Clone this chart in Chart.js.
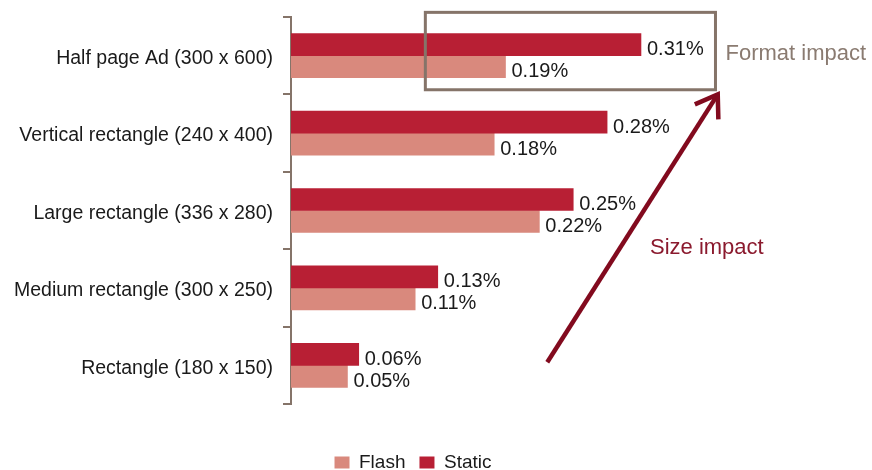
<!DOCTYPE html>
<html>
<head>
<meta charset="utf-8">
<title>Ad format impact</title>
<script src="https://cdn.jsdelivr.net/npm/chart.js@4/dist/chart.umd.min.js"></script>
<style>
  html, body { margin: 0; padding: 0; background: #fff; }
  #wrap { width: 872px; height: 470px; position: relative; }
</style>
</head>
<body>
<div id="wrap"><canvas id="formatChart"></canvas></div>
<script>
// Chart data
var categories = [
    'Half page Ad (300 x 600)',
    'Vertical rectangle (240 x 400)',
    'Large rectangle (336 x 280)',
    'Medium rectangle (300 x 250)',
    'Rectangle (180 x 150)'
];
var seriesNames = ['Static', 'Flash'];
var staticValues = [0.31, 0.28, 0.25, 0.13, 0.06];
var flashValues = [0.19, 0.18, 0.22, 0.11, 0.05];

var FONT = '"Liberation Sans", Arial, sans-serif';
var AXIS_COLOR = '#857469';

// Value labels at the end of each bar
var valueLabels = {
    id: 'valueLabels',
    afterDatasetsDraw: function(chart) {
        var ctx = chart.ctx;
        ctx.save();
        ctx.font = '20px ' + FONT;
        ctx.fillStyle = '#1a1a1a';
        ctx.textAlign = 'left';
        ctx.textBaseline = 'middle';
        chart.data.datasets.forEach(function(ds, i) {
            var meta = chart.getDatasetMeta(i);
            meta.data.forEach(function(bar, j) {
                ctx.fillText(ds.data[j].toFixed(2) + '%', bar.x + 6, bar.y + 5);
            });
        });
        ctx.restore();
    }
};

// Format box, size arrow and their captions
var annotations = {
    id: 'annotations',
    afterDraw: function(chart) {
        var ctx = chart.ctx;
        var xs = chart.scales.x;
        var ys = chart.scales.y;
        var step = ys.getPixelForValue(1) - ys.getPixelForValue(0);

        ctx.save();
        // box around the first category
        var bx1 = xs.getPixelForValue(0.119);
        var bx2 = xs.getPixelForValue(0.376);
        var by1 = ys.getPixelForValue(0) - step * 0.56;
        var by2 = ys.getPixelForValue(0) + step * 0.44;
        ctx.strokeStyle = AXIS_COLOR;
        ctx.lineWidth = 3;
        ctx.strokeRect(bx1, by1, bx2 - bx1, by2 - by1);

        ctx.font = '22px ' + FONT;
        ctx.fillStyle = '#8a7b71';
        ctx.textBaseline = 'middle';
        ctx.fillText('Format impact', bx2 + 10, ys.getPixelForValue(0) - 2);

        // size arrow
        var ax1 = xs.getPixelForValue(0.227);
        var ay1 = ys.getPixelForValue(4) - 3;
        var ax2 = xs.getPixelForValue(0.378);
        var ay2 = ys.getPixelForValue(0) + step * 0.5;
        ctx.strokeStyle = '#820a1e';
        ctx.lineWidth = 4.5;
        ctx.beginPath();
        ctx.moveTo(ax1, ay1);
        ctx.lineTo(ax2, ay2);
        ctx.stroke();
        var ang = Math.atan2(ay2 - ay1, ax2 - ax1);
        var len = 25;
        ctx.lineJoin = 'miter';
        ctx.beginPath();
        ctx.moveTo(ax2 + len * Math.cos(ang + 2.55), ay2 + len * Math.sin(ang + 2.55));
        ctx.lineTo(ax2, ay2);
        ctx.lineTo(ax2 + len * Math.cos(ang - 2.55), ay2 + len * Math.sin(ang - 2.55));
        ctx.stroke();

        ctx.fillStyle = '#8b1a2e';
        ctx.fillText('Size impact', xs.getPixelForValue(0.318), ys.getPixelForValue(2) + 37);
        ctx.restore();
    }
};

var ctx = document.getElementById('formatChart').getContext('2d');
var chart = new Chart(ctx, {
    type: 'bar',
    data: {
        labels: categories,
        datasets: [{
            label: seriesNames[0],
            data: staticValues,
            backgroundColor: '#b81f34',
            barThickness: 22
        }, {
            label: seriesNames[1],
            data: flashValues,
            backgroundColor: '#d9897d',
            barThickness: 22
        }]
    },
    options: {
        indexAxis: 'y',
        responsive: true,
        maintainAspectRatio: false,
        animation: false,
        layout: {
            padding: { top: 17, left: 0, right: 46, bottom: -12 }
        },
        scales: {
            x: {
                min: 0,
                max: 0.4739,
                ticks: { display: false },
                grid: { display: false },
                border: { display: false },
                afterFit: function(scale) { scale.height = 35; }
            },
            y: {
                grid: {
                    drawOnChartArea: false,
                    drawTicks: true,
                    tickLength: 8,
                    lineWidth: 2,
                    color: AXIS_COLOR
                },
                border: { color: AXIS_COLOR, width: 2 },
                ticks: {
                    color: '#1a1a1a',
                    padding: 10,
                    labelOffset: 3,
                    font: { family: FONT, size: 19.5 }
                },
                afterFit: function(scale) {
                    scale.width = 291;
                    scale.paddingTop = 0;
                    scale.paddingBottom = 0;
                }
            }
        },
        plugins: {
            legend: {
                position: 'bottom',
                reverse: true,
                labels: {
                    boxWidth: 15,
                    boxHeight: 12,
                    padding: 14,
                    color: '#1a1a1a',
                    font: { family: FONT, size: 19 }
                }
            },
            tooltip: { enabled: false }
        }
    },
    plugins: [valueLabels, annotations]
});
</script>
</body>
</html>
